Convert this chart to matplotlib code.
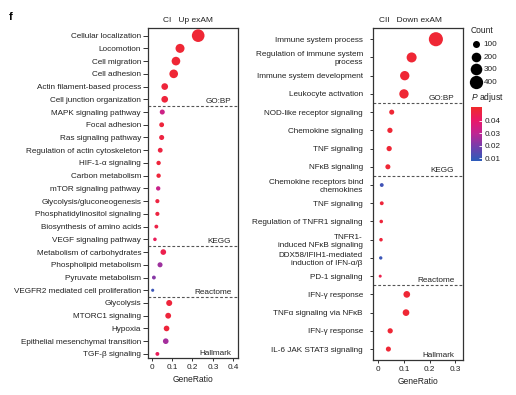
import numpy as np
import matplotlib
matplotlib.use('Agg')
import matplotlib.pyplot as plt
import matplotlib.transforms as mtransforms
from matplotlib.colors import LinearSegmentedColormap, Normalize
from matplotlib.cm import ScalarMappable

plt.rcParams['font.family'] = ['Liberation Sans', 'DejaVu Sans']
plt.rcParams['mathtext.fontset'] = 'custom'
plt.rcParams['mathtext.it'] = 'Liberation Sans:italic'
plt.rcParams['mathtext.rm'] = 'Liberation Sans'

FS = 5.85
TXT = '#222222'

# ── data: left panel (CI, up in exAM) ─────────────────────────────────────────
left_terms = ['Cellular localization', 'Locomotion', 'Cell migration', 'Cell adhesion',
              'Actin filament-based process', 'Cell junction organization',
              'MAPK signaling pathway', 'Focal adhesion', 'Ras signaling pathway',
              'Regulation of actin cytoskeleton', 'HIF-1-α signaling', 'Carbon metabolism',
              'mTOR signaling pathway', 'Glycolysis/gluconeogenesis',
              'Phosphatidylinositol signaling', 'Biosynthesis of amino acids',
              'VEGF signaling pathway',
              'Metabolism of carbohydrates', 'Phospholipid metabolism', 'Pyruvate metabolism',
              'VEGFR2 mediated cell proliferation',
              'Glycolysis', 'MTORC1 signaling', 'Hypoxia', 'Epithelial mesenchymal transition',
              'TGF-β signaling']
left_ratio = [0.228, 0.139, 0.119, 0.108, 0.064, 0.064,
              0.052, 0.049, 0.049, 0.042, 0.034, 0.034, 0.032, 0.028, 0.028, 0.023, 0.016,
              0.057, 0.041, 0.011, 0.005,
              0.086, 0.081, 0.073, 0.069, 0.028]
left_count = [360, 175, 160, 160, 90, 90,
              45, 40, 45, 40, 30, 30, 30, 25, 25, 20, 15,
              60, 45, 20, 8,
              70, 65, 60, 60, 20]
left_padj = [0.049, 0.049, 0.049, 0.049, 0.048, 0.048,
             0.033, 0.048, 0.047, 0.047, 0.048, 0.048, 0.032, 0.047, 0.047, 0.046, 0.043,
             0.045, 0.025, 0.022, 0.010,
             0.048, 0.048, 0.048, 0.026, 0.043]
left_groups = ['GO:BP', 'KEGG', 'Reactome', 'Hallmark']
left_group_sizes = [6, 11, 4, 5]

# ── data: right panel (CII, down in exAM) ─────────────────────────────────────
right_terms = ['Immune system process', 'Regulation of immune system\nprocess',
               'Immune system development', 'Leukocyte activation',
               'NOD-like receptor signaling', 'Chemokine signaling', 'TNF signaling',
               'NFκB signaling',
               'Chemokine receptors bind\nchemokines', 'TNF signaling',
               'Regulation of TNFR1 signaling', 'TNFR1-\ninduced NFκB signaling',
               'DDX58/IFIH1-mediated\ninduction of IFN-α/β', 'PD-1 signaling',
               'IFN-γ response', 'TNFα signaling via NFκB', 'IFN-γ response',
               'IL-6 JAK STAT3 signaling']
right_ratio = [0.225, 0.130, 0.103, 0.100,
               0.052, 0.045, 0.042, 0.037,
               0.013, 0.013, 0.011, 0.010, 0.009, 0.007,
               0.111, 0.108, 0.046, 0.039]
right_count = [450, 220, 190, 190,
               45, 50, 50, 45,
               20, 20, 15, 15, 12, 6,
               90, 90, 50, 45]
right_padj = [0.049, 0.049, 0.049, 0.049,
              0.049, 0.049, 0.049, 0.049,
              0.011, 0.048, 0.048, 0.048, 0.010, 0.045,
              0.049, 0.049, 0.049, 0.049]
right_groups = ['GO:BP', 'KEGG', 'Reactome', 'Hallmark']
right_group_sizes = [4, 4, 6, 4]

legend_counts = [100, 200, 300, 400]
padj_ticks = [0.01, 0.02, 0.03, 0.04]
padj_range = (0.0076, 0.051)

# ── scales ────────────────────────────────────────────────────────────────────
cmap = LinearSegmentedColormap.from_list(
    'padj', [(0.0, '#2c5cba'), (0.286, '#7a3caa'), (0.516, '#c02592'),
             (0.747, '#e8186a'), (1.0, '#f02a2a')])
norm = Normalize(*padj_range)


def size_of(count):
    # area grows linearly with count (diameter ~13 px for 400 at 100 dpi)
    return 0.5184 * (6.3 + 0.427 * np.asarray(count, dtype=float))


def draw_panel(ax, terms, ratio, count, padj, groups, group_sizes, xlim, xticks,
               title, title_x, tag_x, ypad_bottom, lab_pad, tick_len):
    y = np.arange(len(terms))
    ax.scatter(ratio, y, s=size_of(count), c=padj, cmap=cmap, norm=norm,
               linewidths=0, zorder=3)
    ax.set_yticks(y)
    ax.set_yticklabels(terms, fontsize=FS, color=TXT, linespacing=1.2)
    ax.set_ylim(len(terms) - 1 + ypad_bottom, -0.6)
    ax.set_xlim(*xlim)
    ax.set_xticks(xticks)
    ax.set_xticklabels(['0' if t == 0 else f'{t:g}' for t in xticks], fontsize=FS, color=TXT)
    ax.tick_params(axis='y', length=tick_len, pad=lab_pad, width=0.7, color='#333333')
    ax.tick_params(axis='x', length=2.5, pad=2, width=0.7, color='#333333')
    ax.set_xlabel('GeneRatio', fontsize=FS + 0.3, color=TXT, labelpad=3)
    for sp in ax.spines.values():
        sp.set_edgecolor('#333333')
        sp.set_linewidth(0.9)

    trans = mtransforms.blended_transform_factory(ax.transAxes, ax.transData)
    ends = np.cumsum(group_sizes)
    for g, e in zip(groups, ends):
        yb = e - 0.5
        if e < len(terms):
            ax.axhline(yb, color='#555555', lw=0.8, ls=(0, (2.5, 1.8)), zorder=1)
        else:
            yb = len(terms) - 1 + ypad_bottom
        ax.text(tag_x, yb - 0.08, g, transform=trans, ha='right', va='bottom',
                fontsize=FS, color=TXT)

    ax.text(title_x, 1.012, title, transform=ax.transAxes, ha='left', va='bottom',
            fontsize=FS + 0.2, color=TXT)


fig = plt.figure(figsize=(5.16, 3.95), dpi=100)

axL = fig.add_axes([0.2868, 0.0937, 0.1744, 0.8354])
draw_panel(axL, left_terms, left_ratio, left_count, left_padj, left_groups,
           left_group_sizes, (-0.018, 0.423), [0, 0.1, 0.2, 0.3, 0.4],
           'CI   Up exAM', 0.17, 0.925, 0.32, 1.5, 3.5)

axR = fig.add_axes([0.7235, 0.0886, 0.1732, 0.8398])
draw_panel(axR, right_terms, right_ratio, right_count, right_padj, right_groups,
           right_group_sizes, (-0.02, 0.33), [0, 0.1, 0.2, 0.3],
           'CII   Down exAM', 0.064, 0.905, 0.6, 5.0, 2.5)

fig.text(0.017, 0.958, 'f', fontsize=8, fontweight='bold', color='black', va='center')

# ── Count legend ──────────────────────────────────────────────────────────────
handles = [axR.scatter([], [], s=size_of(c), c='black', linewidths=0) for c in legend_counts]
leg = fig.legend(handles, [str(c) for c in legend_counts], title='Count',
                 loc='upper left', bbox_to_anchor=(0.902, 0.948), frameon=False,
                 fontsize=FS, title_fontsize=FS + 0.3, scatterpoints=1,
                 handlelength=1.3, handletextpad=0.25, labelspacing=0.62,
                 borderpad=0.2, alignment='left')
for t in leg.get_texts():
    t.set_color(TXT)
leg.get_title().set_color(TXT)

# ── P adjust colour bar ───────────────────────────────────────────────────────
cax = fig.add_axes([0.9128, 0.5924, 0.0213, 0.1367])
cb = fig.colorbar(ScalarMappable(norm=norm, cmap=cmap), cax=cax, ticks=padj_ticks)
cb.outline.set_visible(False)
cb.ax.tick_params(length=2, width=0.6, color='white', direction='in', pad=2,
                  labelsize=FS, labelcolor=TXT)
cb.ax.text(0.0, 1.06, '$\\it{P}$ adjust', transform=cb.ax.transAxes, ha='left',
           va='bottom', fontsize=FS + 0.3, color=TXT)

plt.savefig('out.png', dpi=100, facecolor='white')
plt.close()
